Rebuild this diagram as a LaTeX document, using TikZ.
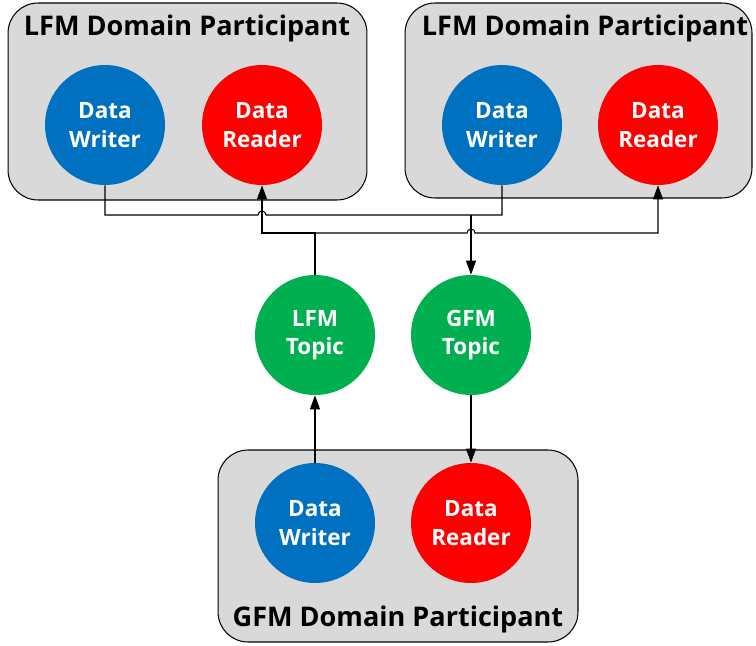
\documentclass[tikz,border=0pt]{standalone}
\usepackage{fontspec}
\setmainfont{Open Sans}
\usetikzlibrary{arrows.meta,positioning,calc}
\definecolor{wblue}{HTML}{0070C0}
\definecolor{rred}{HTML}{FF0000}
\definecolor{tgreen}{HTML}{00B050}
\definecolor{boxgray}{HTML}{D9D9D9}
\tikzset{
    part/.style={draw, fill=boxgray, rounded corners=0.6cm, line width=0.6pt},
    title/.style={font=\bfseries\fontsize{15.4}{18}\selectfont},
    entity/.style={circle, minimum size=2.4cm, inner sep=0pt, align=center, text=white,
        font=\bfseries\fontsize{12.8}{16.2}\selectfont},
    writer/.style={entity, fill=wblue},
    reader/.style={entity, fill=rred},
    topic/.style={entity, fill=tgreen},
    wire/.style={line width=0.6pt},
    flow/.style={wire, -{Triangle[length=2.8mm, width=2mm]}}
}

\begin{document}
\begin{tikzpicture}[x=0.02cm, y=-0.02cm]
    \useasboundingbox (0,0) rectangle (756,645);
    % participants
    \node[part, minimum width=7.18cm, minimum height=3.94cm] (lfmA) at (187.5,101.5) {};
    \node[part, minimum width=6.94cm, minimum height=3.9cm] (lfmB) at (578.5,100.5) {};
    \node[part, minimum width=7.2cm, minimum height=3.84cm] (gfm) at (398,546) {};
    \node[title] (lfmAtitle) at (187,28) {LFM Domain Participant};
    \node[title] (lfmBtitle) at (585,28) {LFM Domain Participant};
    \node[title] (gfmtitle) at (398,619) {GFM Domain Participant};

    % readers and writers
    \node[writer] (aw) at (105,125) {Data\\Writer};
    \node[reader] (ar) at (262,125) {Data\\Reader};
    \node[writer] (bw) at (502,125) {Data\\Writer};
    \node[reader] (br) at (658,125) {Data\\Reader};
    \node[topic] (lt) at (315,335) {LFM\\Topic};
    \node[topic] (gt) at (471,335) {GFM\\Topic};
    \node[writer] (cw) at (315,523) {Data\\Writer};
    \node[reader] (cr) at (471,523) {Data\\Reader};

    \coordinate (busw) at (0,215);
    \coordinate (busr) at (0,233);

    % LFM writers -> GFM topic
    \draw[wire] (aw.south) |- ($(ar.south |- busw)+(-4,0)$)
        arc[start angle=180, end angle=360, radius=4] -| (bw.south);
    \draw[flow] (gt.north |- busw) -- (gt.north);
    % LFM topic -> LFM readers
    \draw[flow] (lt.north) |- (ar.south |- busr) -- (ar.south);
    \draw[flow] (lt.north |- busr) -- ($(gt.north |- busr)+(-4,0)$)
        arc[start angle=180, end angle=360, radius=4] -| (br.south);
    % GFM participant
    \draw[flow] (cw.north) -- (lt.south);
    \draw[flow] (gt.south) -- (cr.north);
\end{tikzpicture}
\end{document}
